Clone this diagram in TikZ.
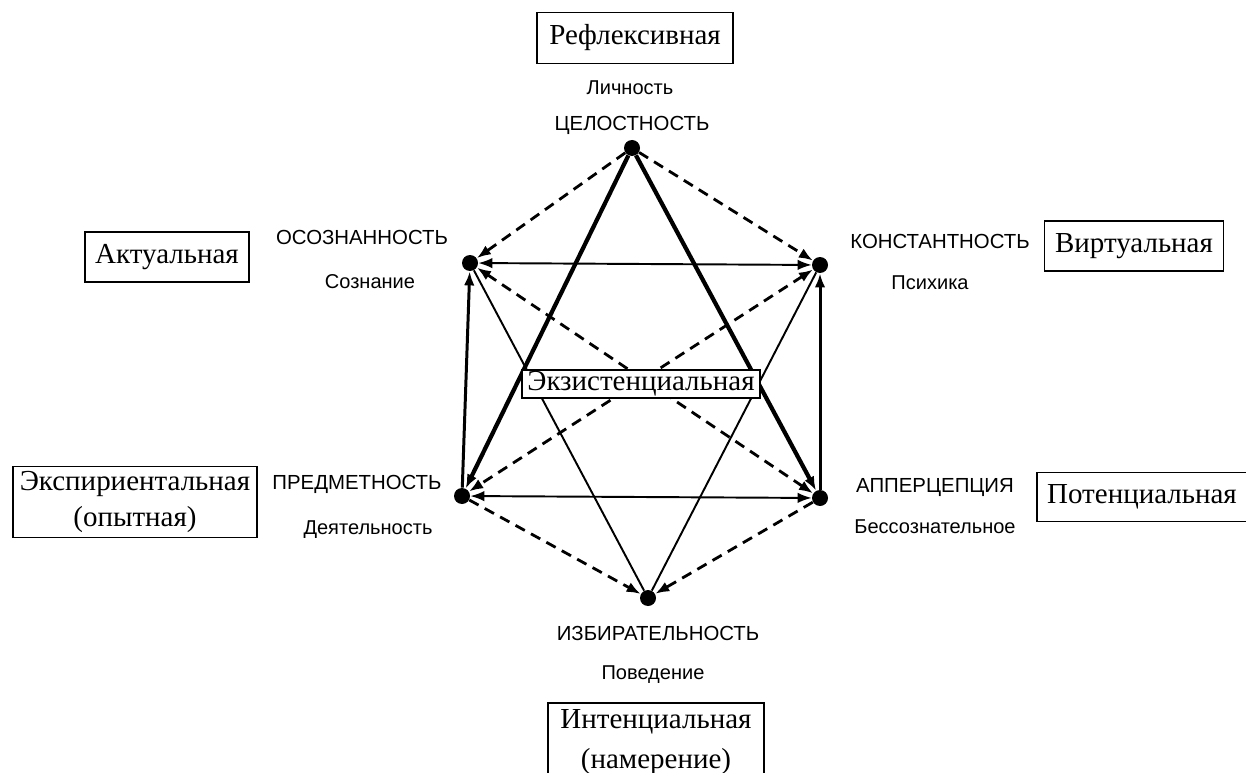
\documentclass[tikz,border=0pt]{standalone}
\usepackage{fontspec}
\setmainfont{Liberation Serif}
\newfontfamily\sansru{Liberation Sans}
\usetikzlibrary{arrows.meta}

\begin{document}
\begin{tikzpicture}[x=0.02cm,y=-0.02cm,
	vertex/.style={circle,fill=black,inner sep=0pt,minimum size=0.32cm},
	levelbox/.style={draw,line width=1pt,inner xsep=7pt,inner ysep=7pt,align=center,font=\fontsize{16.5}{20}\selectfont},
	caps/.style={font=\sansru\fontsize{11.6}{14}\selectfont},
	sublbl/.style={font=\sansru\fontsize{11.4}{14}\selectfont},
	dasharr/.style={line width=1.6pt,dash pattern=on 6pt off 4pt},
	heavy/.style={line width=2.4pt},
	mid/.style={line width=1.7pt},
	plain/.style={line width=1.1pt},
	>={Latex[length=8pt,width=6pt]}]
	\useasboundingbox (0,0) rectangle (1246,773);
	% vertices of the hexagon
	\node[vertex] (cel) at (632,148) {};
	\node[vertex] (oso) at (470,263) {};
	\node[vertex] (kon) at (820,265) {};
	\node[vertex] (pre) at (462,496) {};
	\node[vertex] (app) at (820,498) {};
	\node[vertex] (izb) at (648,598) {};
	% connectors
	\draw[dasharr,->] (cel) -- (oso);
	\draw[dasharr,->] (cel) -- (kon);
	\draw[heavy,->] (cel) -- (pre);
	\draw[heavy,->] (cel) -- (app);
	\draw[plain,<->] (oso) -- (kon);
	\draw[plain,<->] (pre) -- (app);
	\draw[mid,->] (pre) -- (oso);
	\draw[mid,->] (app) -- (kon);
	\draw[dasharr,<->] (oso) -- (app);
	\draw[dasharr,<->] (kon) -- (pre);
	\draw[plain] (oso) -- (izb);
	\draw[plain] (kon) -- (izb);
	\draw[dasharr,->] (pre) -- (izb);
	\draw[dasharr,->] (app) -- (izb);
	% vertex labels
	\node[sublbl] (lichn) at (630,88) {Личность};
	\node[caps] (celt) at (632,125) {ЦЕЛОСТНОСТЬ};
	\node[caps] (osot) at (362,237) {ОСОЗНАННОСТЬ};
	\node[sublbl] (sozn) at (370,282) {Сознание};
	\node[caps] (kont) at (940,241) {КОНСТАНТНОСТЬ};
	\node[sublbl] (psih) at (930,283) {Психика};
	\node[caps] (pret) at (357,484) {ПРЕДМЕТНОСТЬ};
	\node[sublbl] (deyat) at (368,530) {Деятельность};
	\node[caps] (appt) at (935,488) {АППЕРЦЕПЦИЯ};
	\node[sublbl] (bess) at (935,527) {Бессознательное};
	\node[caps] (izbt) at (658,633) {ИЗБИРАТЕЛЬНОСТЬ};
	\node[sublbl] (pov) at (653,675) {Поведение};
	% levels
	\node[levelbox] (refl) at (635,38) {Рефлексивная};
	\node[levelbox,inner xsep=6pt] (akt) at (167,257) {Актуальная};
	\node[levelbox,inner xsep=6pt] (virt) at (1134,246) {Виртуальная};
	\node[levelbox,inner xsep=4pt,inner ysep=3pt] (eksp) at (135,502) {Экспириентальная\\(опытная)};
	\node[levelbox,inner ysep=4pt,font=\fontsize{16.5}{22.5}\selectfont] (inten) at (656,742) {Интенциальная\\(намерение)};
	\node[levelbox,inner xsep=6pt] (pot) at (1142,497) {Потенциальная};
	\node[levelbox,fill=white,inner xsep=3pt,inner ysep=1pt] (ekz) at (641,384) {Экзистенциальная};
\end{tikzpicture}
\end{document}
